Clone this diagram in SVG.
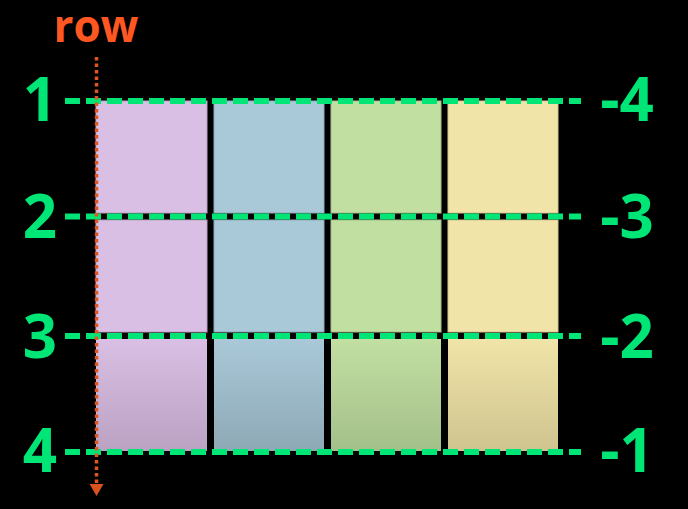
<svg xmlns="http://www.w3.org/2000/svg" width="688" height="509" viewBox="0 0 688 509">
<style>
.num{font-family:"Open Sans","Noto Sans",sans-serif;font-weight:700;font-size:60px;fill:#00E676}
.gl{stroke:#00E676;stroke-width:6;stroke-dasharray:15 6;fill:none}
</style>
<defs>
<linearGradient id="gp" x1="0" y1="0" x2="0" y2="1"><stop offset="0" stop-color="#D9BFE3"/><stop offset="1" stop-color="#BBA1C2"/></linearGradient>
<linearGradient id="gb" x1="0" y1="0" x2="0" y2="1"><stop offset="0" stop-color="#A9C8D8"/><stop offset="1" stop-color="#8EA9B6"/></linearGradient>
<linearGradient id="gg" x1="0" y1="0" x2="0" y2="1"><stop offset="0" stop-color="#C2DFA2"/><stop offset="1" stop-color="#A4C08A"/></linearGradient>
<linearGradient id="gy" x1="0" y1="0" x2="0" y2="1"><stop offset="0" stop-color="#F0E4A8"/><stop offset="1" stop-color="#CFC48F"/></linearGradient>
<marker id="ah" markerWidth="12" markerHeight="14" refX="1" refY="7" orient="auto" markerUnits="userSpaceOnUse" viewBox="0 0 12 14"><path d="M0,0 L12,7 L0,14 Z" fill="#D9531E"/></marker>
</defs>
<rect width="688" height="509" fill="#000"/>
<g id="cells">
<g id="r1">
<rect x="96" y="101" width="111" height="112" fill="#D9BFE3" stroke="#B9A2C2"/>
<rect x="214" y="101" width="110" height="112" fill="#A9C8D8" stroke="#8FAAB8"/>
<rect x="331" y="101" width="110" height="112" fill="#C2DFA2" stroke="#A5BF8A"/>
<rect x="448" y="101" width="110" height="112" fill="#F0E4A8" stroke="#CFC48F"/>
</g>
<g id="r2">
<rect x="96" y="220" width="111" height="112" fill="#D9BFE3" stroke="#B9A2C2"/>
<rect x="214" y="220" width="110" height="112" fill="#A9C8D8" stroke="#8FAAB8"/>
<rect x="331" y="220" width="110" height="112" fill="#C2DFA2" stroke="#A5BF8A"/>
<rect x="448" y="220" width="110" height="112" fill="#F0E4A8" stroke="#CFC48F"/>
</g>
<g id="r3">
<rect x="96" y="339" width="111" height="112" fill="url(#gp)"/>
<rect x="214" y="339" width="110" height="112" fill="url(#gb)"/>
<rect x="331" y="339" width="110" height="112" fill="url(#gg)"/>
<rect x="448" y="339" width="110" height="112" fill="url(#gy)"/>
</g>
</g>
<g id="lines">
<line class="gl" x1="65" y1="101" x2="581" y2="101"/>
<line class="gl" x1="65" y1="216.5" x2="581" y2="216.5"/>
<line class="gl" x1="65" y1="336" x2="581" y2="336"/>
<line class="gl" x1="65" y1="452" x2="581" y2="452"/>
</g>
<g id="row-axis">
<line x1="96.5" y1="57" x2="96.5" y2="485" stroke="#E0561F" stroke-width="3.5" stroke-dasharray="3.5 3" marker-end="url(#ah)"/>
<text x="96" y="42" text-anchor="middle" font-family="'Open Sans','Noto Sans',sans-serif" font-weight="700" font-size="44" fill="#FF5722">row</text>
</g>
<g id="labels-left">
<text class="num" x="40" y="121" text-anchor="middle">1</text>
<text class="num" x="40" y="238" text-anchor="middle">2</text>
<text class="num" x="40" y="358" text-anchor="middle">3</text>
<text class="num" x="40" y="472" text-anchor="middle">4</text>
</g>
<g id="labels-right">
<text class="num" x="627" y="121" text-anchor="middle">-4</text>
<text class="num" x="627" y="238" text-anchor="middle">-3</text>
<text class="num" x="627" y="358" text-anchor="middle">-2</text>
<text class="num" x="627" y="472" text-anchor="middle">-1</text>
</g>
</svg>
